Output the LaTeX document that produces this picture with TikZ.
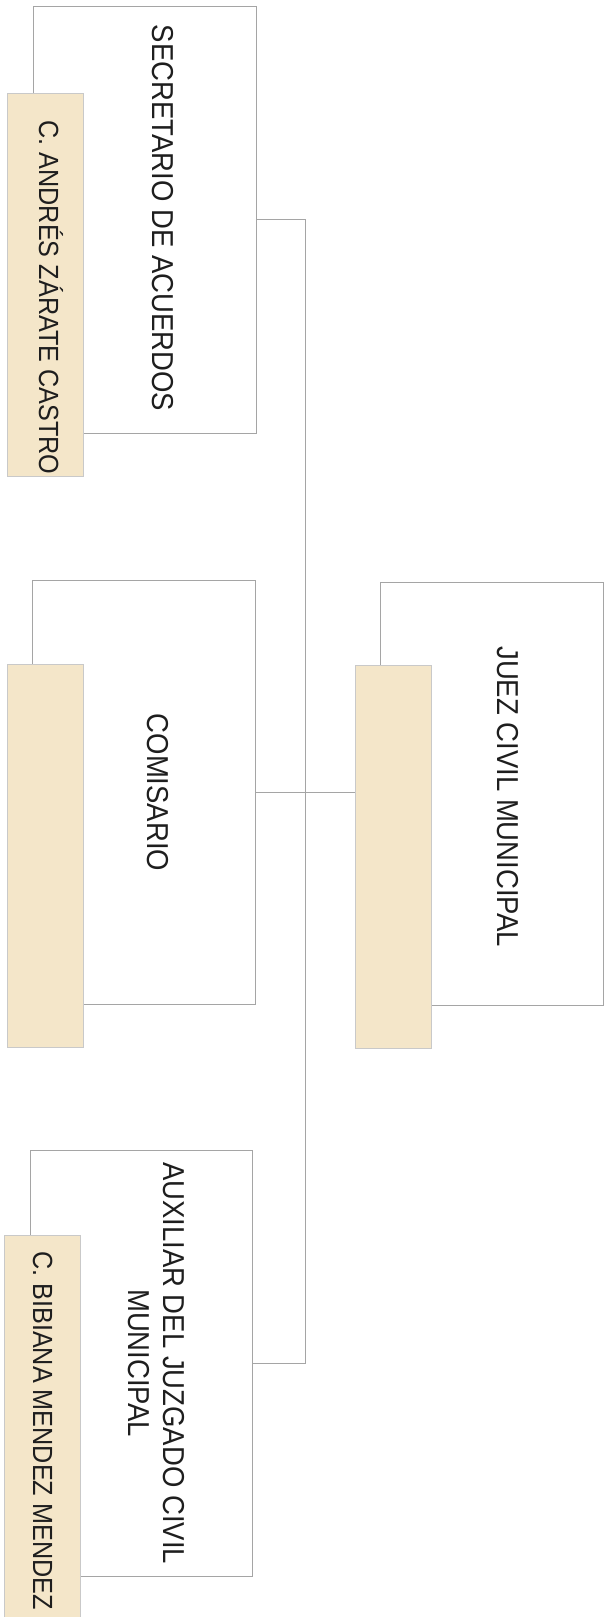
\documentclass[tikz,border=0pt]{standalone}
\usepackage{fontspec}
\setmainfont{Liberation Sans}
\usepackage{graphicx}
\definecolor{tanfill}{RGB}{244,230,201}
\definecolor{linegray}{RGB}{165,165,165}
\definecolor{txt}{RGB}{30,30,30}
\newcommand\vstr[1]{\scalebox{1}[1.1]{#1}}
\tikzset{
  box/.style={draw=linegray, line width=1pt, fill=white, inner sep=0pt, outer sep=0pt, rectangle},
  namebox/.style={draw=linegray!60, line width=0.8pt, fill=tanfill, inner sep=0pt, outer sep=0pt, rectangle},
  conn/.style={draw=linegray, line width=1pt},
  lbl/.style={rotate=-90, inner sep=0pt, text=txt, font=\fontsize{27.5}{32}\selectfont},
  namelbl/.style={rotate=-90, inner sep=0pt, text=txt, font=\fontsize{25.2}{30}\selectfont}
}
\begin{document}
\begin{tikzpicture}[x=1pt,y=-1pt]
\useasboundingbox (0,0) rectangle (606,1617);
\fill[white] (0,0) rectangle (606,1617);
% boxes
\node[box, anchor=north west, minimum width=223pt, minimum height=427pt] (sec) at (33,6) {};
\node[namebox, anchor=north west, minimum width=76pt, minimum height=383pt] (secN) at (7,93) {};
\node[box, anchor=north west, minimum width=223pt, minimum height=424pt] (com) at (32,580) {};
\node[namebox, anchor=north west, minimum width=76pt, minimum height=383pt] (comN) at (7,664) {};
\node[box, anchor=north west, minimum width=223pt, minimum height=423pt] (juez) at (380,582) {};
\node[namebox, anchor=north west, minimum width=76pt, minimum height=383pt] (juezN) at (355,665) {};
\node[box, anchor=north west, minimum width=222pt, minimum height=426pt] (aux) at (30,1150) {};
\node[namebox, anchor=north west, minimum width=76pt, minimum height=382pt] (auxN) at (4,1235) {};
% connectors
\coordinate (bus) at (305,0);
\draw[conn] (sec.east) -- (sec.east -| bus) -- (aux.east -| bus) -- (aux.east);
\draw[conn] (com.east) -- (juezN.west |- com.east);
% labels
\node[lbl, anchor=base] (secT) at (152,218) {\vstr{SECRETARIO DE ACUERDOS}};
\node[namelbl, anchor=base] (secNT) at (39,297.5) {\vstr{C. ANDRÉS ZÁRATE CASTRO}};
\node[lbl, anchor=base] (comT) at (147,792.5) {\vstr{COMISARIO}};
\node[lbl, anchor=base] (juezT) at (497,796.5) {\vstr{JUEZ CIVIL MUNICIPAL}};
\node[lbl, anchor=center] (auxT) at (152.8,1363) {\vstr{\begin{tabular}{@{}c@{}}AUXILIAR DEL JUZGADO CIVIL\\MUNICIPAL\end{tabular}}};
\node[namelbl, anchor=base] (auxNT) at (33,1430.5) {\vstr{C. BIBIANA MENDEZ MENDEZ}};
\end{tikzpicture}
\end{document}
